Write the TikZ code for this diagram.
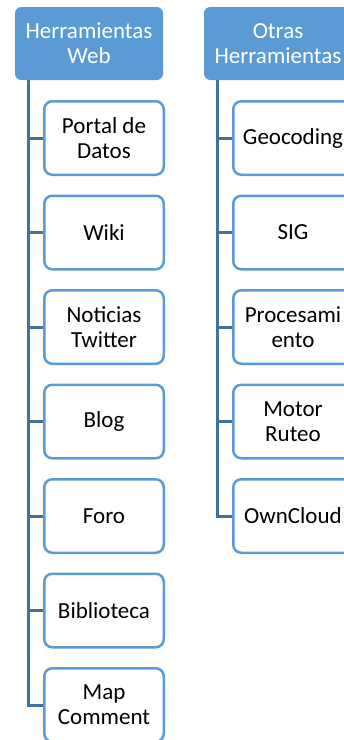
\documentclass[tikz,border=0pt]{standalone}
\usepackage{fontspec}
\setmainfont{Carlito}
\definecolor{hdr}{HTML}{5B9BD5}
\definecolor{lnk}{HTML}{41719C}
\begin{document}
\begin{tikzpicture}[x=1pt,y=-1pt,
  hdrbox/.style={draw=hdr, fill=hdr, rounded corners=6pt, minimum width=147pt, minimum height=72pt,
    text=white, align=center, font=\fontsize{23}{25}\selectfont, inner sep=0pt, line width=1pt},
  childbox/.style={draw=hdr, fill=white, rounded corners=8pt, line width=2.5pt,
    minimum width=119.5pt, minimum height=73.5pt, align=center,
    font=\fontsize{23}{25}\selectfont, inner sep=0pt, text=black},
  link/.style={draw=lnk, line width=3pt}]
\useasboundingbox (0,0) rectangle (344,740);
% headers
\node[hdrbox] (h1) at (89,43.5) {Herramientas\\Web};
\node[hdrbox] (h2) at (278,43.5) {Otras\\Herramientas};
\coordinate (t1) at (28,80);
\coordinate (t2) at (217,80);
% left children
\node[childbox] (a1) at (104,138) {Portal de\\Datos};
\node[childbox] (a2) at (104,232.5) {Wiki};
\node[childbox] (a3) at (104,327) {Noticias\\Twitter};
\node[childbox] (a4) at (104,421.5) {Blog};
\node[childbox] (a5) at (104,516) {Foro};
\node[childbox] (a6) at (104,610.5) {Biblioteca};
\node[childbox] (a7) at (104,705) {Map\\Comment};
% right children
\node[childbox] (b1) at (293,138) {Geocoding};
\node[childbox] (b2) at (293,232.5) {SIG};
\node[childbox] (b3) at (293,327) {Procesami\\ento};
\node[childbox] (b4) at (293,421.5) {Motor\\Ruteo};
\node[childbox] (b5) at (293,516) {OwnCloud};
% connectors
\draw[link] (t1) |- (a7.west);
\foreach \n in {a1,a2,a3,a4,a5,a6} \draw[link] (t1 |- \n.west) -- (\n.west);
\draw[link] (t2) |- (b5.west);
\foreach \n in {b1,b2,b3,b4} \draw[link] (t2 |- \n.west) -- (\n.west);
\end{tikzpicture}
\end{document}
